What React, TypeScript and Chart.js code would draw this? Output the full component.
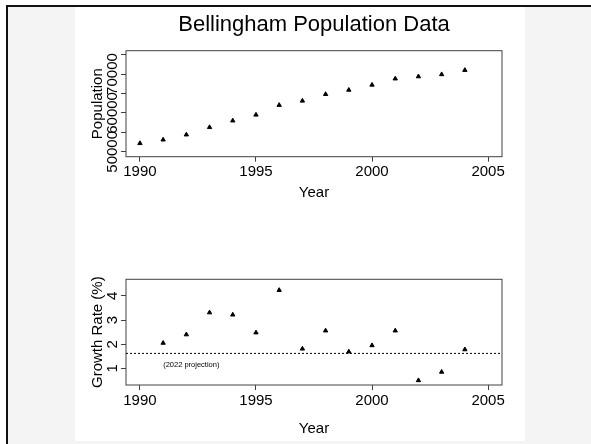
import React, { useEffect, useRef } from "react";
import { Chart, registerables } from "chart.js";

Chart.register(...registerables);

const FONT = "'Liberation Sans', Arial, Helvetica, sans-serif";

// ---- texts ----
const titleText = "Bellingham Population Data";
const xAxisTitle = "Year";
const popAxisTitle = "Population";
const growthAxisTitle = "Growth Rate (%)";
const projectionLabel = "(2022 projection)";

// ---- data ----
const popYears = [1990, 1991, 1992, 1993, 1994, 1995, 1996, 1997, 1998, 1999, 2000, 2001, 2002, 2003, 2004];
const population = [52180, 53100, 54400, 56300, 58000, 59500, 62000, 63100, 64800, 65900, 67200, 68800, 69350, 69900, 71000];

const growthYears = [1991, 1992, 1993, 1994, 1995, 1996, 1997, 1998, 1999, 2000, 2001, 2002, 2003, 2004];
const growthRate = [2.05, 2.4, 3.31, 3.22, 2.48, 4.24, 1.81, 2.56, 1.69, 1.95, 2.56, 0.5, 0.85, 1.78];

const projectionRate = 1.62;
const projectionLabelYear = 1991;
const projectionLabelValue = 1.14;

// ---- ticks / ranges ----
const yearTicks = [1990, 1995, 2000, 2005];
const popTicks = [50000, 55000, 60000, 65000, 70000, 75000];
const popTickLabels = [50000, 60000, 70000];
const growthTicks = [1, 2, 3, 4];
const growthTickLabels = [1, 2, 3, 4];

const yearRange = [1989.4, 2005.6];
const popRange = [48740, 76000];
const growthRange = [0.31, 4.69];

const AXIS_COLOR = "#404040";

function framePlugin(labels: number[]) {
  return {
    id: "frameAndLabels",
    beforeDatasetsDraw(chart: any) {
      const { ctx, chartArea: a } = chart;
      ctx.save();
      ctx.strokeStyle = AXIS_COLOR;
      ctx.lineWidth = 1;
      ctx.strokeRect(a.left, a.top, a.right - a.left, a.bottom - a.top);
      ctx.restore();
    },
    afterDraw(chart: any) {
      const { ctx, chartArea: a } = chart;
      const scale = chart.scales.y;
      ctx.save();
      ctx.font = `15px ${FONT}`;
      ctx.fillStyle = "#000";
      ctx.textAlign = "center";
      ctx.textBaseline = "middle";
      for (const v of labels) {
        const py = scale.getPixelForValue(v);
        ctx.save();
        ctx.translate(a.left - 12.8, py);
        ctx.rotate(-Math.PI / 2);
        ctx.fillText(String(v), 0, 0);
        ctx.restore();
      }
      ctx.restore();
    },
  };
}

const projectionTextPlugin = {
  id: "projectionText",
  afterDatasetsDraw(chart: any) {
    const { ctx } = chart;
    const x = chart.scales.x.getPixelForValue(projectionLabelYear);
    const y = chart.scales.y.getPixelForValue(projectionLabelValue);
    ctx.save();
    ctx.font = `7.5px ${FONT}`;
    ctx.fillStyle = "#000";
    ctx.textAlign = "left";
    ctx.textBaseline = "middle";
    ctx.fillText(projectionLabel, x, y);
    ctx.restore();
  },
};

function xScale(height: number, tickPad: number, titleBottom: number) {
  return {
    type: "linear",
    min: yearRange[0],
    max: yearRange[1],
    afterBuildTicks: (s: any) => {
      s.ticks = yearTicks.map((v) => ({ value: v }));
    },
    afterFit: (s: any) => {
      s.height = height;
    },
    grid: { drawOnChartArea: false, drawTicks: true, tickLength: 5, tickColor: AXIS_COLOR, tickWidth: 1 },
    border: { display: false },
    ticks: {
      autoSkip: false,
      maxRotation: 0,
      minRotation: 0,
      padding: tickPad,
      color: "#000",
      font: { family: FONT, size: 15 },
      callback: (v: any) => String(v),
    },
    title: {
      display: true,
      text: xAxisTitle,
      color: "#000",
      font: { family: FONT, size: 15 },
      padding: { top: 0, bottom: titleBottom },
    },
  };
}

function yScale(range: number[], ticks: number[], title: string) {
  return {
    type: "linear",
    min: range[0],
    max: range[1],
    afterBuildTicks: (s: any) => {
      s.ticks = ticks.map((v) => ({ value: v }));
    },
    afterFit: (s: any) => {
      s.width = 51;
    },
    grid: { drawOnChartArea: false, drawTicks: true, tickLength: 5, tickColor: AXIS_COLOR, tickWidth: 1 },
    border: { display: false },
    ticks: { display: false },
    title: {
      display: true,
      text: title,
      color: "#000",
      font: { family: FONT, size: 15 },
      padding: { top: 14.3, bottom: 0 },
    },
  };
}

const pointStyle = {
  pointStyle: "triangle",
  pointRadius: 2.5,
  pointBackgroundColor: "#000",
  pointBorderColor: "#000",
  pointBorderWidth: 1,
  showLine: false,
};

export default function App() {
  const c1 = useRef<HTMLCanvasElement>(null);
  const c2 = useRef<HTMLCanvasElement>(null);

  useEffect(() => {
    const chart1 = new Chart(c1.current as HTMLCanvasElement, {
      type: "scatter",
      data: {
        datasets: [
          {
            data: popYears.map((y, i) => ({ x: y, y: population[i] })),
            ...pointStyle,
          } as any,
        ],
      },
      options: {
        animation: false,
        responsive: false,
        devicePixelRatio: 1,
        events: [],
        layout: { padding: { left: 0, right: 23, top: 0, bottom: 0 } },
        plugins: {
          legend: { display: false },
          tooltip: { enabled: false },
          title: {
            display: true,
            text: titleText,
            fullSize: false,
            color: "#000",
            font: { family: FONT, size: 22, weight: "normal" },
            padding: { top: 4.5, bottom: 12.8 },
          },
        },
        scales: {
          x: xScale(53.3, 1.3, 8) as any,
          y: yScale(popRange, popTicks, popAxisTitle) as any,
        },
      },
      plugins: [framePlugin(popTickLabels)],
    });

    const chart2 = new Chart(c2.current as HTMLCanvasElement, {
      type: "scatter",
      data: {
        datasets: [
          {
            data: growthYears.map((y, i) => ({ x: y, y: growthRate[i] })),
            ...pointStyle,
          } as any,
          {
            data: [
              { x: yearRange[0], y: projectionRate },
              { x: yearRange[1], y: projectionRate },
            ],
            showLine: true,
            borderColor: "#000",
            borderWidth: 1,
            borderDash: [2, 2],
            pointRadius: 0,
          } as any,
        ],
      },
      options: {
        animation: false,
        responsive: false,
        devicePixelRatio: 1,
        events: [],
        layout: { padding: { left: 0, right: 23, top: 69.3, bottom: 0 } },
        plugins: {
          legend: { display: false },
          tooltip: { enabled: false },
        },
        scales: {
          x: xScale(56, 2, 2.7) as any,
          y: yScale(growthRange, growthTicks, growthAxisTitle) as any,
        },
      },
      plugins: [framePlugin(growthTickLabels), projectionTextPlugin],
    });

    return () => {
      chart1.destroy();
      chart2.destroy();
    };
  }, []);

  return (
    <div
      style={{
        position: "fixed",
        left: 0,
        top: 0,
        width: 591,
        height: 444,
        background: "#fff",
        overflow: "hidden",
      }}
    >
      <div
        style={{
          position: "absolute",
          left: 6,
          top: 5,
          width: 585,
          height: 439,
          boxSizing: "border-box",
          borderLeft: "2px solid #111",
          borderTop: "2px solid #111",
          background: "#f4f4f4",
        }}
      />
      <div style={{ position: "absolute", left: 75, top: 7, width: 450, height: 434, background: "#fff" }} />
      <canvas
        ref={c1}
        width={450}
        height={203}
        style={{ position: "absolute", left: 75, top: 7, display: "block" }}
      />
      <canvas
        ref={c2}
        width={450}
        height={231}
        style={{ position: "absolute", left: 75, top: 210, display: "block" }}
      />
    </div>
  );
}
